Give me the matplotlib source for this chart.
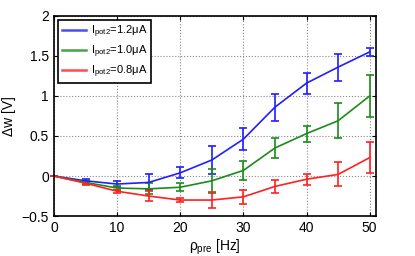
#!/usr/bin/env python3
import numpy as np
import matplotlib
matplotlib.use('Agg')
import matplotlib.pyplot as plt
from matplotlib.lines import Line2D

plt.rcParams['font.family'] = ['Liberation Sans', 'DejaVu Sans']
plt.rcParams['mathtext.fontset'] = 'custom'
plt.rcParams['mathtext.rm'] = 'Liberation Sans'
plt.rcParams['mathtext.it'] = 'Liberation Sans'

rate = [0, 5, 10, 15, 20, 25, 30, 35, 40, 45, 50]
labels = ['1.2', '1.0', '0.8']
colors = ['#1f1fff', '#1a8c1a', '#ff2020']

w_12 = [0.0, -0.06, -0.10, -0.08, 0.04, 0.20, 0.46, 0.86, 1.16, 1.36, 1.55]
err_12 = [0.0, 0.02, 0.04, 0.10, 0.07, 0.18, 0.14, 0.17, 0.13, 0.17, 0.05]
w_10 = [0.0, -0.08, -0.15, -0.16, -0.14, -0.06, 0.07, 0.35, 0.53, 0.69, 1.00]
err_10 = [0.0, 0.02, 0.03, 0.07, 0.05, 0.15, 0.12, 0.12, 0.10, 0.22, 0.26]
w_08 = [0.0, -0.09, -0.19, -0.25, -0.30, -0.30, -0.26, -0.13, -0.04, 0.02, 0.23]
err_08 = [0.0, 0.02, 0.02, 0.06, 0.02, 0.10, 0.09, 0.08, 0.07, 0.15, 0.19]

series = [(w_12, err_12), (w_10, err_10), (w_08, err_08)]

fig = plt.figure(figsize=(4.15, 2.56), dpi=100)
ax = fig.add_axes([0.13, 0.156, 0.776, 0.782])

handles = []
for (w, e), lab, c in zip(series, labels, colors):
    ax.errorbar(rate, w, yerr=e, color=c, lw=1.2, elinewidth=1.2,
                capsize=3, capthick=1.2, clip_on=False, zorder=3)
    handles.append(Line2D([], [], color=c, lw=1.8, alpha=0.8,
                          label=r'I$_{\mathrm{pot2}}$=' + lab + 'μA'))

ax.set_xlim(0, 51)
ax.set_ylim(-0.5, 2)
ax.set_xticks(np.arange(0, 51, 10))
ax.set_yticks([-0.5, 0, 0.5, 1, 1.5, 2])
ax.set_yticklabels(['\u22120.5', '0', '0.5', '1', '1.5', '2'])
ax.grid(True, ls=':', color='#888888', lw=0.8)
ax.tick_params(direction='in', top=True, right=True, labelsize=10, length=3)
for s in ax.spines.values():
    s.set_linewidth(1.2)
    s.set_zorder(4)

ax.set_xlabel(r'$\rho_{\mathrm{pre}}$ [Hz]', fontsize=10, labelpad=2)
ax.set_ylabel('Δw [V]', fontsize=10)

leg = ax.legend(handles=handles, loc='upper left', fontsize=8,
                fancybox=False, framealpha=1, edgecolor='black',
                handlelength=2.2, handletextpad=0.4, borderaxespad=0.35,
                labelspacing=0.3, borderpad=0.35)
leg.get_frame().set_linewidth(1.2)
leg.set_zorder(5)

fig.savefig('out.png', dpi=100)
